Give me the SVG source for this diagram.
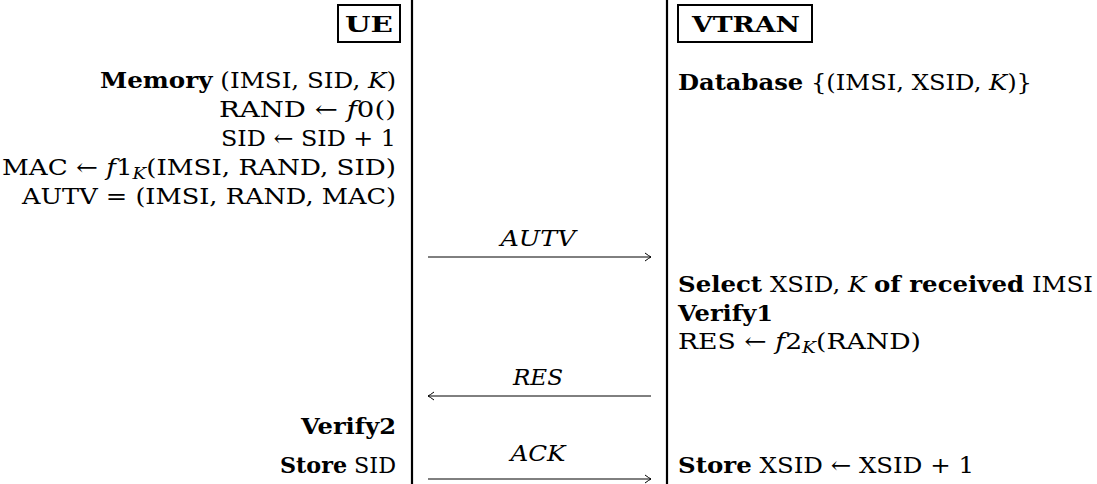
<svg xmlns="http://www.w3.org/2000/svg" width="1097" height="484" viewBox="0 0 1097 484">
<style>
text{font-family:"DejaVu Serif","Liberation Serif",serif;font-size:23px;fill:#000}
.b{font-weight:bold}
.i{font-style:italic}
.r{text-anchor:end}
.c{text-anchor:middle}
.box{fill:none;stroke:#000;stroke-width:2}
.life{stroke:#000;stroke-width:2.2}
.msg{stroke:#000;stroke-width:1;fill:none}
</style>
<defs>
<marker id="ah" viewBox="-8 -5 10 10" refX="0" refY="0" markerWidth="10" markerHeight="10" markerUnits="userSpaceOnUse" orient="auto">
<path d="M-6,-4 Q-2,-1 0,0 Q-2,1 -6,4" fill="none" stroke="#000" stroke-width="1"/>
</marker>
</defs>
<g id="lifelines">
<line class="life" x1="412" y1="0" x2="412" y2="484"/>
<line class="life" x1="667" y1="0" x2="667" y2="484"/>
</g>
<g id="ue">
<rect class="box" x="338" y="5" width="62" height="37"/>
<text class="b c" x="369" y="32" textLength="48" lengthAdjust="spacingAndGlyphs">UE</text>
<text class="r" x="396" y="88" textLength="296" lengthAdjust="spacingAndGlyphs"><tspan class="b">Memory</tspan> (IMSI, SID, <tspan class="i">K</tspan>)</text>
<text class="r" x="396" y="117" textLength="177" lengthAdjust="spacingAndGlyphs">RAND ← <tspan class="i">f</tspan>0()</text>
<text class="r" x="396" y="146" textLength="175" lengthAdjust="spacingAndGlyphs">SID ← SID + 1</text>
<text class="r" x="396" y="175" textLength="394" lengthAdjust="spacingAndGlyphs">MAC ← <tspan class="i">f</tspan>1<tspan class="i" font-size="16" dy="4">K</tspan><tspan dy="-4">(IMSI, RAND, SID)</tspan></text>
<text class="r" x="396" y="204" textLength="374" lengthAdjust="spacingAndGlyphs">AUTV = (IMSI, RAND, MAC)</text>
<text class="b r" x="396" y="434" textLength="95" lengthAdjust="spacingAndGlyphs">Verify2</text>
<text class="r" x="396" y="473" textLength="116" lengthAdjust="spacingAndGlyphs"><tspan class="b">Store</tspan> SID</text>
</g>
<g id="vtran">
<rect class="box" x="678" y="5" width="134" height="37"/>
<text class="b c" x="746" y="32" textLength="108" lengthAdjust="spacingAndGlyphs">VTRAN</text>
<text x="678" y="90" textLength="354" lengthAdjust="spacingAndGlyphs"><tspan class="b">Database</tspan> {(IMSI, XSID, <tspan class="i">K</tspan>)}</text>
<text x="678" y="292" textLength="415" lengthAdjust="spacingAndGlyphs"><tspan class="b">Select</tspan> XSID, <tspan class="i">K</tspan> <tspan class="b">of received</tspan> IMSI</text>
<text class="b" x="678" y="321" textLength="95" lengthAdjust="spacingAndGlyphs">Verify1</text>
<text x="678" y="349" textLength="243" lengthAdjust="spacingAndGlyphs">RES ← <tspan class="i">f</tspan>2<tspan class="i" font-size="16" dy="4">K</tspan><tspan dy="-4">(RAND)</tspan></text>
<text x="678" y="473" textLength="296" lengthAdjust="spacingAndGlyphs"><tspan class="b">Store</tspan> XSID ← XSID + 1</text>
</g>
<g id="connectors">
<line class="msg" x1="428" y1="257" x2="651" y2="257" marker-end="url(#ah)"/>
<text class="i c" x="538" y="246" textLength="75" lengthAdjust="spacingAndGlyphs">AUTV</text>
<line class="msg" x1="651" y1="396" x2="428" y2="396" marker-end="url(#ah)"/>
<text class="i c" x="538" y="385" textLength="50" lengthAdjust="spacingAndGlyphs">RES</text>
<line class="msg" x1="428" y1="479" x2="651" y2="479" marker-end="url(#ah)"/>
<text class="i c" x="538" y="461" textLength="55" lengthAdjust="spacingAndGlyphs">ACK</text>
</g>
</svg>
